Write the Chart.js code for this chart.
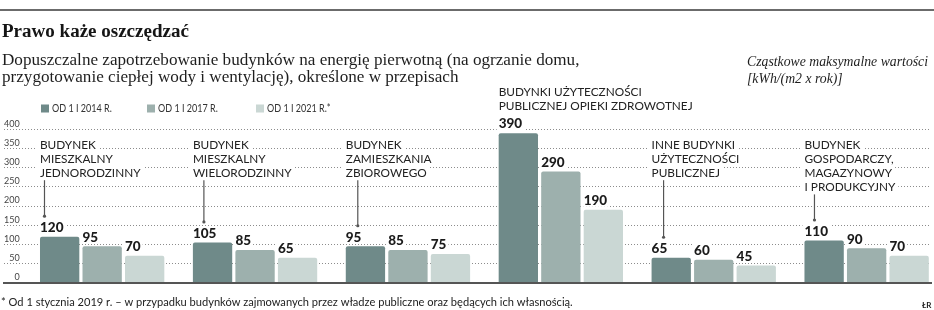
<!DOCTYPE html>
<html><head><meta charset="utf-8">
<script src="https://cdn.jsdelivr.net/npm/chart.js@4.4.1/dist/chart.umd.min.js"></script>
<style>html,body{margin:0;padding:0;background:#fff;overflow:hidden}#wrap{position:relative;width:934px;height:310px}</style>
</head><body><div id="wrap"><canvas id="c" width="934" height="310"></canvas></div>
<script>
// ---- data ----
const categories = [
  ['BUDYNEK', 'MIESZKALNY', 'JEDNORODZINNY'],
  ['BUDYNEK', 'MIESZKALNY', 'WIELORODZINNY'],
  ['BUDYNEK', 'ZAMIESZKANIA', 'ZBIOROWEGO'],
  ['BUDYNKI UŻYTECZNOŚCI', 'PUBLICZNEJ OPIEKI ZDROWOTNEJ'],
  ['INNE BUDYNKI', 'UŻYTECZNOŚCI', 'PUBLICZNEJ'],
  ['BUDYNEK', 'GOSPODARCZY,', 'MAGAZYNOWY', 'I PRODUKCYJNY']
];
const seriesNames = ['OD 1 I 2014 R.', 'OD 1 I 2017 R.', 'OD 1 I 2021 R.*'];
const values2014 = [120, 105, 95, 390, 65, 110];
const values2017 = [95, 85, 85, 290, 60, 90];
const values2021 = [70, 65, 75, 190, 45, 70];
const yTickValues = [0, 50, 100, 150, 200, 250, 300, 350, 400];

const titleText = 'Prawo każe oszczędzać';
const subtitleLines = ['Dopuszczalne zapotrzebowanie budynków na energię pierwotną (na ogrzanie domu,',
                       'przygotowanie ciepłej wody i wentylację), określone w przepisach'];
const unitLines = ['Cząstkowe maksymalne wartości', '[kWh/(m2 x rok)]'];
const footnoteText = '* Od 1 stycznia 2019 r. – w przypadku budynków zajmowanych przez władze publiczne oraz będących ich własnością.';
const creditText = 'ŁR';

// ---- layout / style (not data) ----
const colors = ['#6f8a89', '#9db0ad', '#cad7d4'];
const labelFirstLineY = [144.3, 144.3, 144.3, 91.7, 144.3, 144.3];
const leaderOffsetX = [4.5, 11, 12, null, 12, 10];
const SANS = 'Lato, "Open Sans", sans-serif';
const SERIF = '"Liberation Serif", "DejaVu Serif", serif';

const seriesValues = [values2014, values2017, values2021];

function fitFont(ctx, text, style, family, target) {
  ctx.font = style + ' 20px ' + family;
  const w = ctx.measureText(text).width;
  const size = 20 * target / w;
  ctx.font = style + ' ' + size.toFixed(2) + 'px ' + family;
  return size;
}

const decor = {
  id: 'decor',
  afterDatasetsDraw(chart) {
    const ctx = chart.ctx;
    ctx.save();
    const metas = [0, 1, 2].map(i => chart.getDatasetMeta(i));
    ctx.font = '900 13.5px ' + SANS;
    ctx.textBaseline = 'middle';
    ctx.textAlign = 'left';
    const valueCenters = [];
    metas.forEach((meta, d) => {
      meta.data.forEach((bar, i) => {
        const left = bar.x - bar.width / 2;
        const cy = bar.y - 9.5;
        const txt = String(seriesValues[d][i]);
        const w = ctx.measureText(txt).width;
        ctx.fillStyle = '#fff';
        ctx.fillRect(left - 2, cy - 6.5, w + 4, 13);
        ctx.fillStyle = '#1b1b1b';
        ctx.fillText(txt, left, cy + 0.5);
        if (d === 0) valueCenters[i] = cy;
      });
    });
    ctx.font = '11.8px ' + SANS;
    categories.forEach((lines, i) => {
      const bar = metas[0].data[i];
      const left = bar.x - bar.width / 2;
      lines.forEach((ln, k) => {
        const cy = labelFirstLineY[i] + k * 14.2;
        const w = ctx.measureText(ln).width;
        ctx.fillStyle = '#fff';
        ctx.fillRect(left - 3, cy - 6.5, w + 6, 13);
        ctx.fillStyle = '#222';
        ctx.fillText(ln, left, cy + 0.5);
      });
      if (leaderOffsetX[i] !== null) {
        const x = left + leaderOffsetX[i];
        const y0 = labelFirstLineY[i] + (lines.length - 1) * 14.2 + 7.5;
        const y1 = valueCenters[i] - 11;
        ctx.strokeStyle = '#555';
        ctx.lineWidth = 1.2;
        ctx.beginPath(); ctx.moveTo(x, y0); ctx.lineTo(x, y1); ctx.stroke();
        ctx.fillStyle = '#555';
        ctx.beginPath(); ctx.arc(x, y1, 1.6, 0, Math.PI * 2); ctx.fill();
      }
    });
    ctx.restore();
  },
  afterDraw(chart) {
    const ctx = chart.ctx;
    ctx.save();
    ctx.fillStyle = '#6b6b6b';
    ctx.fillRect(0, 9, 934, 2);
    ctx.textBaseline = 'middle';
    ctx.textAlign = 'left';
    ctx.fillStyle = '#151515';
    fitFont(ctx, titleText, 'bold', SERIF, 187);
    ctx.fillText(titleText, 2, 32);
    ctx.fillStyle = '#1e1e1e';
    fitFont(ctx, subtitleLines[0], 'normal', SERIF, 578);
    subtitleLines.forEach((t, k) => ctx.fillText(t, 2, 60 + k * 17));
    fitFont(ctx, unitLines[0], 'italic', SERIF, 181);
    unitLines.forEach((t, k) => ctx.fillText(t, 747, 62.5 + k * 17));
    // legend (condensed text)
    ctx.font = '10.5px ' + SANS;
    const lx = [41, 147, 256];
    seriesNames.forEach((n, k) => {
      ctx.fillStyle = colors[k];
      ctx.fillRect(lx[k], 104.5, 8, 8);
      ctx.fillStyle = '#333';
      ctx.save();
      ctx.translate(lx[k] + 11, 109);
      ctx.scale(0.86, 1);
      ctx.fillText(n, 0, 0);
      ctx.restore();
    });
    ctx.fillStyle = '#222';
    fitFont(ctx, footnoteText, 'normal', SANS, 572);
    ctx.fillText(footnoteText, 1, 302);
    ctx.font = 'bold 8px ' + SANS;
    ctx.fillText(creditText, 922, 305);
    ctx.restore();
  }
};

new Chart(document.getElementById('c'), {
  type: 'bar',
  data: {
    datasets: seriesNames.map((name, d) => ({
      label: name,
      data: seriesValues[d].map((v, i) => ({ x: i, y: v })),
      backgroundColor: colors[d],
      borderRadius: { topLeft: 2, topRight: 2 },
      borderSkipped: 'bottom',
      categoryPercentage: 0.834,
      barPercentage: 0.925,
      clip: false
    }))
  },
  options: {
    responsive: false,
    animation: false,
    events: [],
    layout: { padding: { left: 4, right: 3, top: 129.3, bottom: 27.3 } },
    plugins: { legend: { display: false }, tooltip: { enabled: false } },
    scales: {
      x: {
        type: 'linear',
        min: -0.642,
        max: 5.421,
        bounds: 'data',
        offset: false,
        afterBuildTicks(scale) { scale.ticks = categories.map((c, i) => ({ value: i })); },
        ticks: { display: false },
        grid: { display: false, drawTicks: false, offset: false },
        border: { display: true, color: '#555', width: 2, z: 1 }
      },
      y: {
        min: 0,
        max: 400,
        afterBuildTicks(scale) { scale.ticks = yTickValues.map(v => ({ value: v })); },
        ticks: {
          mirror: true, crossAlign: 'far', padding: 0, labelOffset: -5.5,
          font: { family: SANS, size: 9 }, color: '#444'
        },
        grid: { color: '#8c8c8c', lineWidth: 1, drawTicks: false },
        border: { display: false, dash: [1, 2] }
      }
    }
  },
  plugins: [decor]
});
</script></body></html>
